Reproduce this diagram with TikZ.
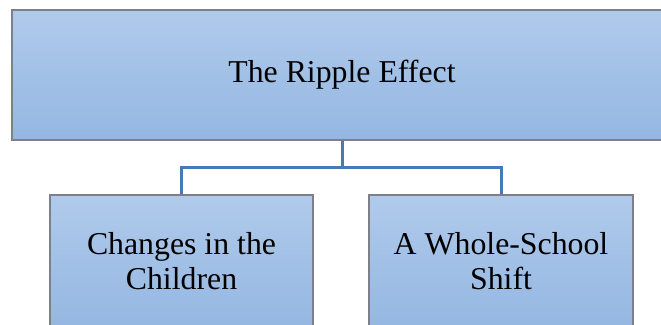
\documentclass[tikz,border=0pt]{standalone}
\usepackage{fontspec}
\usetikzlibrary{calc}
\setmainfont{Liberation Serif}
\definecolor{boxtop}{RGB}{176,202,235}
\definecolor{boxbot}{RGB}{148,183,226}
\definecolor{boxline}{RGB}{125,128,135}
\definecolor{linkblue}{RGB}{70,122,183}
\tikzset{
  card/.style={rectangle, draw=boxline, line width=1.3pt,
    top color=boxtop, bottom color=boxbot, align=center,
    font=\fontsize{31.8}{34.5}\selectfont, inner sep=0pt},
  link/.style={draw=linkblue, line width=3pt}
}
\begin{document}
\begin{tikzpicture}[x=1pt,y=-1pt]
  \useasboundingbox (0,0) rectangle (661,324);
  \node[card, minimum width=660pt, minimum height=130pt] (top) at (342,75) {The Ripple Effect};
  \node[card, minimum width=263pt, minimum height=132pt] (left) at (181.5,261) {Changes in the\\Children};
  \node[card, minimum width=264pt, minimum height=132pt] (right) at (501,261) {A Whole-School\\Shift};
  \coordinate (hub) at ($(top.south)+(0,27)$);
  \path[link] (top.south) -- (hub);
  \path[link] (hub) -| (left.north);
  \path[link] (hub) -| (right.north);
\end{tikzpicture}
\end{document}
